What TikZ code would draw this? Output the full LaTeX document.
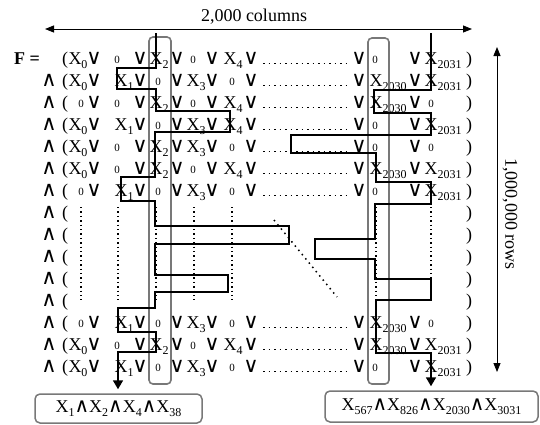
\documentclass[tikz,border=0pt]{standalone}
\usepackage{fontspec}
\setmainfont{Liberation Serif}
\newfontfamily\symf{DejaVu Sans}
\usetikzlibrary{arrows.meta,calc}
\definecolor{colgray}{RGB}{120,120,120}
\newcommand\sbx[1]{\raisebox{-4.5pt}{\fontsize{12}{12}\selectfont #1}}
\newcommand\Xv[1]{X\sbx{#1}}
\newcommand\orv{{\symf\fontsize{21}{21}\selectfont ∨}}
\newcommand\andv{{\symf\fontsize{21}{21}\selectfont ∧}}
\newcommand\andb{{\symf\fontsize{20}{20}\selectfont ∧}}
\def\zz{z}
% name, x of X, x of zero, row centre y, content
\newcommand\mkcell[5]{%
  \edef\tmpc{#5}%
  \ifx\tmpc\zz
    \node[zerotok] (#1) at (#3,#4+5) {0};
  \else
    \node[xtok] (#1) at (#2-6.5,#4+6) {\Xv{#5}};
  \fi}
\begin{document}
\begin{tikzpicture}[x=1pt,y=-1pt,
  tok/.style={inner sep=0pt,outer sep=0pt,font=\fontsize{18}{18}\selectfont},
  xtok/.style={tok,anchor=base west},
  zerotok/.style={inner sep=0pt,outer sep=0pt,anchor=base,font=\fontsize{11}{11}\selectfont},
  ortok/.style={inner sep=0pt,outer sep=0pt,anchor=base},
  hdots/.style={line width=1.5pt,dash pattern=on 1.5pt off 4pt},
  vdots/.style={line width=1.4pt,dash pattern=on 1.4pt off 3pt},
  colbox/.style={draw=colgray,line width=1.6pt,rounded corners=4pt},
  trace/.style={line width=1.7pt,line join=miter},
  dim/.style={line width=0.9pt,{Triangle[length=9pt,width=7pt]}-{Triangle[length=9pt,width=7pt]}},
  resbox/.style={draw=colgray,line width=1.5pt,rounded corners=5pt,inner sep=0pt,font=\fontsize{18}{18}\selectfont}
]
\useasboundingbox (0,0) rectangle (540,424);

% header dimension arrows
\coordinate (colL) at (45,29);
\coordinate (colR) at (472,29);
\draw[dim] (colL) -- (colR);
\node[tok] (collab) at (254,17) {2,000 columns};
\coordinate (rowT) at (497,47);
\coordinate (rowB) at (497,372);
\draw[dim] (rowT) -- (rowB);
\node[tok,rotate=-90] (rowlab) at (510,214) {1,000,000 rows};

% left labels
\node[tok,anchor=base] (Flab) at (27,64) {\textbf{F =}};
\node[tok,anchor=base] (par1) at (65,64) {(};
\foreach \r in {2,...,15}{
  \pgfmathsetmacro\yc{58+22*(\r-1)}
  \node[ortok] (and\r) at (49,\yc+6) {\andv};
  \node[tok,anchor=base] (par\r) at (65,\yc+6) {(};
}
\foreach \r in {1,...,15}{
  \pgfmathsetmacro\yc{58+22*(\r-1)}
  \node[tok,anchor=base] (cls\r) at (469,\yc+6) {)};
}

% rows with literals
\foreach \r/\a/\b/\c/\d/\e/\f/\g in {
 1/0/z/2/z/4/z/2031,
 2/0/1/z/3/z/2030/2031,
 3/z/z/2/z/4/2030/z,
 4/0/1/z/3/4/z/2031,
 5/0/z/2/3/z/z/z,
 6/0/z/2/z/4/2030/2031,
 7/z/1/z/3/z/z/2031,
 13/z/1/z/3/z/2030/z,
 14/0/z/2/z/4/2030/2031,
 15/0/1/z/3/z/z/2031}{
  \pgfmathsetmacro\yc{58+22*(\r-1)}
  \mkcell{r\r c0}{75}{81}{\yc}{\a}
  \mkcell{r\r c1}{121}{117}{\yc}{\b}
  \mkcell{r\r c2}{156}{158}{\yc}{\c}
  \mkcell{r\r c3}{193}{193}{\yc}{\d}
  \mkcell{r\r c4}{230}{232}{\yc}{\e}
  \mkcell{r\r c5}{376}{375}{\yc}{\f}
  \mkcell{r\r c6}{431}{431}{\yc}{\g}
  \foreach \vx [count=\k] in {94,140,177,212,251,359,415}{
    \node[ortok] (r\r v\k) at (\vx,\yc+6) {\orv};
  }
  \draw[hdots] (263,\yc+5.5) -- (346,\yc+5.5);
}

% vertical dotted continuation
\foreach \vx in {81,118,156,194,232,376,431}{
  \draw[vdots] (\vx,207) -- (\vx,300);
}
\draw[hdots] (274,220) -- (337,297);

% highlighted columns
\draw[colbox] (149,37) rectangle (171,384);
\draw[colbox] (368,38) rectangle (389,384);

% result boxes
\node[resbox,minimum width=167pt,minimum height=29pt] (lbox) at (118.5,408.5)
  {\Xv{1}\andb\Xv{2}\andb\Xv{4}\andb\Xv{38}};
\node[resbox,minimum width=213pt,minimum height=31pt] (rbox) at (431.5,406.5)
  {\Xv{567}\andb\Xv{826}\andb\Xv{2030}\andb\Xv{3031}};

% traced paths
\coordinate (lstart) at (156,33);
\coordinate (lend) at ($(lbox.north)+(0,-4)$);
\draw[trace,-{Triangle[length=9pt,width=10pt]}] (lstart) -- (156,68) -- (117,68) -- (117,89) -- (156,89) -- (156,111)
  -- (230,111) -- (230,132) -- (155,132) -- (155,177) -- (121,177) -- (121,201)
  -- (155,201) -- (155,226) -- (289,226) -- (289,244) -- (155,244) -- (155,275)
  -- (228,275) -- (228,292) -- (155,292) -- (155,308) -- (118,308) -- (118,332)
  -- (156,332) -- (156,352) -- (118,352) -- (lend -| 118,0);
\coordinate (rstart) at (431,33);
\coordinate (rend) at ($(rbox.north)+(0,-4)$);
\draw[trace,-{Triangle[length=9pt,width=10pt]}] (rstart) -- (431,90) -- (374,90) -- (374,113) -- (431,113) -- (431,135)
  -- (291,135) -- (291,153) -- (376,153) -- (376,182) -- (431,182) -- (431,204)
  -- (375,204) -- (375,239) -- (315,239) -- (315,259) -- (375,259) -- (375,279)
  -- (431,279) -- (431,300) -- (376,300) -- (376,353) -- (431,353) -- (rend -| 431,0);
\end{tikzpicture}
\end{document}
